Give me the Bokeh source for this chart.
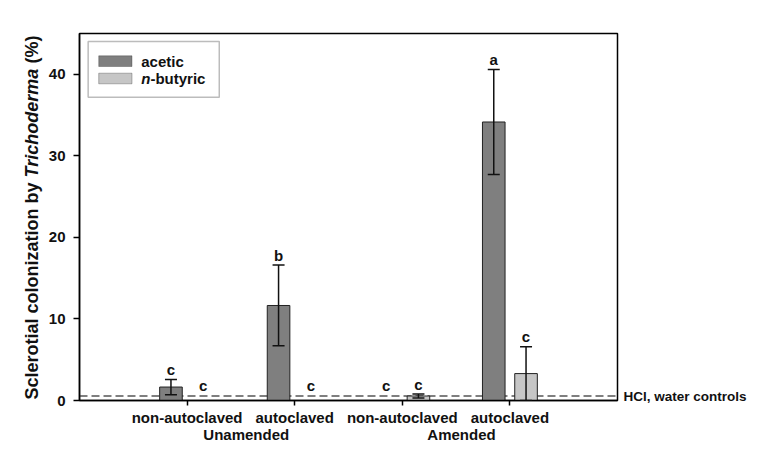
import numpy as np
from bokeh.plotting import figure
from bokeh.layouts import row
from bokeh.models import (ColumnDataSource, Whisker, TeeHead, Span,
                          BoxAnnotation, Range1d, FixedTicker, LinearAxis)
from bokeh.core.properties import value
from bokeh.embed import file_html
from bokeh.resources import INLINE

# ---------------- data ----------------
categories = ["non-autoclaved", "autoclaved", "non-autoclaved", "autoclaved"]
groups = ["Unamended", "Amended"]
acetic_mean = [1.65, 11.65, 0.0, 34.15]
acetic_err = [0.93, 4.95, 0.0, 6.45]
acetic_letters = ["c", "b", "c", "a"]
butyric_mean = [0.0, 0.0, 0.55, 3.3]
butyric_err = [0.0, 0.0, 0.25, 3.3]
butyric_letters = ["c", "c", "c", "c"]
control_level = 0.55
control_text = "HCl, water controls"
y_ticks = [0, 10, 20, 30, 40]
series_names = ["acetic", "n-butyric"]
y_title = ["Sclerotial colonization by", "Trichoderma", "(%)"]

FONT = "Liberation Sans"
INK = "#111111"
ACETIC = "#7f7f7f"
BUTYRIC = "#c6c6c6"

W, H = 749, 445
LEFT_W = 44
FRAME_L, FRAME_R, FRAME_T, FRAME_B = 79, 619, 33, 400
YMAX = 45.0

pos = np.arange(1, len(categories) + 1)
off = 0.15
bw = 0.21

ppu = (FRAME_B - FRAME_T) / YMAX
ppx = (FRAME_R - FRAME_L) / 5.0


def dx(px):
    return (px - FRAME_L) / ppx


def dy(py):
    return (FRAME_B - py) / ppu


# ---------------- left strip: y-axis title with mixed styles ----------------
lp = figure(width=LEFT_W, height=H, output_backend="svg", toolbar_location=None,
            x_range=Range1d(0, LEFT_W), y_range=Range1d(0, YMAX),
            x_axis_location=None, y_axis_location=None, min_border=0)
lp.outline_line_color = None
lp.xgrid.visible = False
lp.ygrid.visible = False
lp.background_fill_color = "white"
lp.border_fill_color = "white"
fs = 18.0
em_starts = [0.0, 12.337, 18.672]
styles = ["bold", "bold italic", "bold"]
start_px = 399.0
tsrc = ColumnDataSource(dict(x=[31.7] * 3,
                             y=[dy(start_px - e * fs) for e in em_starts],
                             t=y_title, s=styles))
lp.text(x="x", y="y", text="t", source=tsrc, angle=np.pi / 2,
        text_align="left", text_baseline="middle", text_font=value(FONT),
        text_font_size="18px", text_font_style="s", text_color=INK)

# ---------------- main plot ----------------
p = figure(width=W - LEFT_W, height=H, output_backend="svg", toolbar_location=None,
           x_range=Range1d(0, 5), y_range=Range1d(0, YMAX),
           min_border_left=FRAME_L - LEFT_W, min_border_right=W - FRAME_R,
           min_border_top=FRAME_T, min_border_bottom=H - FRAME_B)
p.xgrid.visible = False
p.ygrid.visible = False
p.outline_line_color = "black"
p.outline_line_width = 1.5
p.background_fill_color = "white"
p.border_fill_color = "white"

# dashed control line
p.add_layout(Span(location=control_level, dimension="width", line_color="#555555",
                  line_width=1.5, line_dash="8 4", level="underlay"))

# legend frame and swatches
p.add_layout(BoxAnnotation(left=dx(87.7), right=dx(219.3), bottom=dy(96.7),
                           top=dy(41), fill_color="white", fill_alpha=1.0,
                           line_color="#222222", line_width=1.5, level="underlay"))
p.add_layout(BoxAnnotation(left=dx(98.3), right=dx(131.7), bottom=dy(66),
                           top=dy(55.3), fill_color=ACETIC, fill_alpha=1.0,
                           line_color="#222222", line_width=1, level="underlay"))
p.add_layout(BoxAnnotation(left=dx(98.3), right=dx(131.7), bottom=dy(83.3),
                           top=dy(72.7), fill_color=BUTYRIC, fill_alpha=1.0,
                           line_color="#222222", line_width=1, level="underlay"))
leg_src = ColumnDataSource(dict(
    x=[dx(141), dx(141), dx(141)], y=[dy(61), dy(78.3), dy(78.3)],
    t=[series_names[0], series_names[1][:1], series_names[1][1:]],
    s=["bold", "bold italic", "bold"], xo=[0, 0, 0.611 * 15]))
p.text(x="x", y="y", text="t", source=leg_src, x_offset="xo",
       text_baseline="middle", text_align="left", text_font=value(FONT),
       text_font_size="15px", text_font_style="s", text_color=INK)


def series(mean, err, letters, shift, color):
    src = ColumnDataSource(dict(x=pos + shift, top=mean))
    p.vbar(x="x", top="top", bottom=0, width=bw, source=src,
           fill_color=color, line_color="#222222", line_width=1)
    m = np.array(mean)
    e = np.array(err)
    keep = e > 0
    wsrc = ColumnDataSource(dict(base=(pos + shift)[keep], upper=(m + e)[keep],
                                 lower=(m - e)[keep]))
    p.add_layout(Whisker(base="base", upper="upper", lower="lower", source=wsrc,
                         dimension="height", line_color=INK, line_width=1.5,
                         upper_head=TeeHead(size=12, line_width=1.5, line_color=INK),
                         lower_head=TeeHead(size=12, line_width=1.5, line_color=INK),
                         level="overlay"))
    ly = np.maximum(m + e, 0.6) + 1.2
    lsrc = ColumnDataSource(dict(x=pos + shift, y=ly, t=letters))
    p.text(x="x", y="y", text="t", source=lsrc, text_align="center",
           text_baseline="middle", text_font_size="15px",
           text_font_style="bold", text_color=INK, text_font=value(FONT))


series(acetic_mean, acetic_err, acetic_letters, -off, ACETIC)
series(butyric_mean, butyric_err, butyric_letters, off, BUTYRIC)

# axes
for ax in (p.xaxis[0], p.yaxis[0]):
    ax.axis_line_color = "black"
    ax.axis_line_width = 1.5
    ax.major_tick_line_color = "black"
    ax.major_tick_line_width = 1.5
    ax.minor_tick_line_color = None
    ax.major_tick_in = 0
    ax.major_label_text_font = FONT
    ax.major_label_text_color = INK

p.yaxis.ticker = FixedTicker(ticks=y_ticks)
p.yaxis.major_tick_out = 6
p.yaxis.major_label_standoff = 8
p.yaxis.major_label_text_font_size = "15px"
p.yaxis.major_label_text_font_style = "bold"

p.xaxis.ticker = FixedTicker(ticks=list(pos))
p.xaxis.major_label_overrides = {int(i): c for i, c in zip(pos, categories)}
p.xaxis.major_tick_out = 5
p.xaxis.major_label_standoff = 3
p.xaxis.major_label_text_font_size = "15px"
p.xaxis.major_label_text_font_style = "bold"

# group labels as a second bottom axis
gpos = [float(pos[0:2].mean() + 0.05), float(pos[2:4].mean() + 0.05)]
gax = LinearAxis(ticker=FixedTicker(ticks=gpos),
                 major_label_overrides={g: t for g, t in zip(gpos, groups)},
                 axis_line_color=None, major_tick_line_color=None,
                 minor_tick_line_color=None, major_tick_out=0, major_tick_in=0,
                 major_label_standoff=-3, major_label_text_font=FONT,
                 major_label_text_font_size="15px",
                 major_label_text_font_style="bold", major_label_text_color=INK)
p.add_layout(gax, "below")

# control label as a right axis
cax = LinearAxis(ticker=FixedTicker(ticks=[control_level]),
                 major_label_overrides={control_level: control_text},
                 axis_line_color=None, major_tick_line_color=None,
                 minor_tick_line_color=None, major_tick_out=0, major_tick_in=0,
                 major_label_standoff=6, major_label_text_font=FONT,
                 major_label_text_font_size="13.5px",
                 major_label_text_font_style="bold", major_label_text_color=INK)
p.add_layout(cax, "right")

layout = row(lp, p, spacing=0)
open("out.html", "w").write(file_html(layout, INLINE))
